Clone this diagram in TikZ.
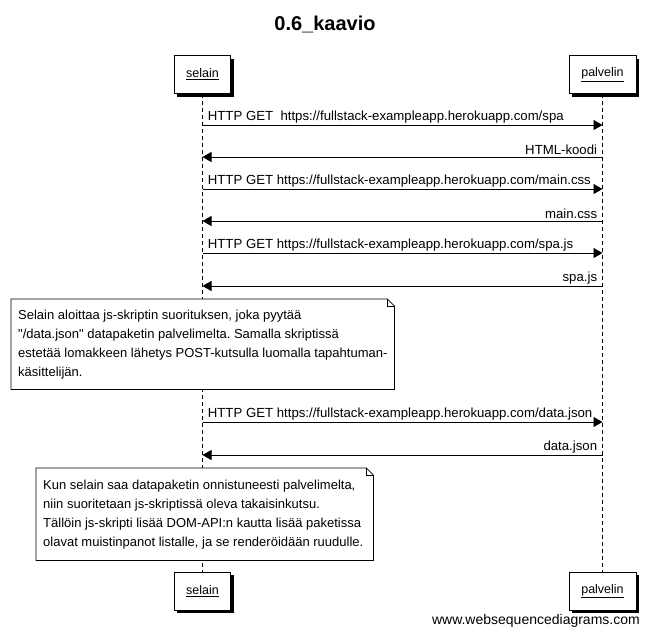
\documentclass[tikz,border=0pt]{standalone}
\usepackage{fontspec}
\setmainfont{Liberation Sans}
\newfontfamily\qfont{Liberation Sans}
\frenchspacing
\usetikzlibrary{arrows.meta,shadows}
\begin{document}
\begin{tikzpicture}[x=1pt,y=-1pt,
  pbox/.style={draw, fill=white, line width=0.8pt, minimum height=38pt, inner xsep=12pt,
    font=\fontsize{12.5}{14}\selectfont,
    drop shadow={shadow xshift=3pt, shadow yshift=-3pt, opacity=1, fill=black}},
  lifeline/.style={line width=0.8pt, dash pattern=on 4pt off 3pt},
  msg/.style={line width=0.8pt, -{Triangle[length=9pt,width=10pt]}},
  lbl/.style={font=\fontsize{13.2}{15}\selectfont, inner sep=0pt},
  noteframe/.style={anchor=north west, inner sep=0pt, fill=white},
  notetext/.style={anchor=west, inner sep=0pt, align=left,
    font=\fontsize{13}{19}\selectfont},
  foldline/.style={line width=0.8pt}
]
\useasboundingbox (0,0) rectangle (648,635);
% title
\node[font=\fontsize{20}{24}\selectfont\bfseries] (title) at (325,24) {0.6\_kaavio};
% participants
\node[pbox, minimum width=55pt] (s1) at (202.5,74.5) {\underline{selain}};
\node[pbox, minimum width=67pt] (p1) at (602.5,74.5) {\underline{palvelin}};
\node[pbox, minimum width=55pt] (s2) at (202.5,591) {\underline{selain}};
\node[pbox, minimum width=67pt] (p2) at (602.5,591) {\underline{palvelin}};
% lifelines
\draw[lifeline] (s1) -- (s2);
\draw[lifeline] (p1) -- (p2);
% message endpoints
\foreach \i/\y in {1/125,2/157,3/189,4/221,5/253,6/286,7/422,8/455}{
  \coordinate (s\i) at (202.5,\y);
  \coordinate (p\i) at (602.5,\y);
}
\draw[msg] (s1) -- node[lbl, pos=0, anchor=south west, xshift=5pt, yshift=1.5pt] {HTTP GET\ \ https://fullstack-exampleapp.herokuapp.com/spa} (p1);
\draw[msg] (p2) -- node[lbl, pos=0, anchor=south east, xshift=-5pt, yshift=1.5pt] {HTML-koodi} (s2);
\draw[msg] (s3) -- node[lbl, pos=0, anchor=south west, xshift=5pt, yshift=1.5pt] {HTTP GET https://fullstack-exampleapp.herokuapp.com/main.css} (p3);
\draw[msg] (p4) -- node[lbl, pos=0, anchor=south east, xshift=-5pt, yshift=1.5pt] {main.css} (s4);
\draw[msg] (s5) -- node[lbl, pos=0, anchor=south west, xshift=5pt, yshift=1.5pt] {HTTP GET https://fullstack-exampleapp.herokuapp.com/spa.js} (p5);
\draw[msg] (p6) -- node[lbl, pos=0, anchor=south east, xshift=-5pt, yshift=1.5pt] {spa.js} (s6);
\draw[msg] (s7) -- node[lbl, pos=0, anchor=south west, xshift=5pt, yshift=1.5pt] {HTTP GET https://fullstack-exampleapp.herokuapp.com/data.json} (p7);
\draw[msg] (p8) -- node[lbl, pos=0, anchor=south east, xshift=-5pt, yshift=1.5pt] {data.json} (s8);
% note 1
\node[noteframe, minimum width=383pt, minimum height=90pt] (n1) at (11,299) {};
\draw[foldline] (n1.north west) -- ([xshift=-7pt]n1.north east) -- ([yshift=-7pt]n1.north east) -- (n1.south east) -- (n1.south west) -- cycle;
\draw[foldline] ([xshift=-7pt]n1.north east) -- ([xshift=-7pt,yshift=-7pt]n1.north east) -- ([yshift=-7pt]n1.north east);
\node[notetext, xshift=7pt] (n1t) at (n1.west)
 {Selain aloittaa js-skriptin suorituksen, joka pyytää\\
 {\qfont"}/data.json{\qfont"} datapaketin palvelimelta. Samalla skriptissä\\
 estetää lomakkeen lähetys POST-kutsulla luomalla tapahtuman-\\
 käsittelijän.};
% note 2
\node[noteframe, minimum width=337pt, minimum height=92pt] (n2) at (36,468) {};
\draw[foldline] (n2.north west) -- ([xshift=-7pt]n2.north east) -- ([yshift=-7pt]n2.north east) -- (n2.south east) -- (n2.south west) -- cycle;
\draw[foldline] ([xshift=-7pt]n2.north east) -- ([xshift=-7pt,yshift=-7pt]n2.north east) -- ([yshift=-7pt]n2.north east);
\node[notetext, xshift=7pt] (n2t) at (n2.west)
 {Kun selain saa datapaketin onnistuneesti palvelimelta,\\
 niin suoritetaan js-skriptissä oleva takaisinkutsu.\\
 Tällöin js-skripti lisää DOM-API:n kautta lisää paketissa\\
 olavat muistinpanot listalle, ja se renderöidään ruudulle.};
% footer
\node[font=\fontsize{14}{16}\selectfont, anchor=base east, inner sep=0pt] (footer) at (640,624) {www.websequencediagrams.com};
\end{tikzpicture}
\end{document}
